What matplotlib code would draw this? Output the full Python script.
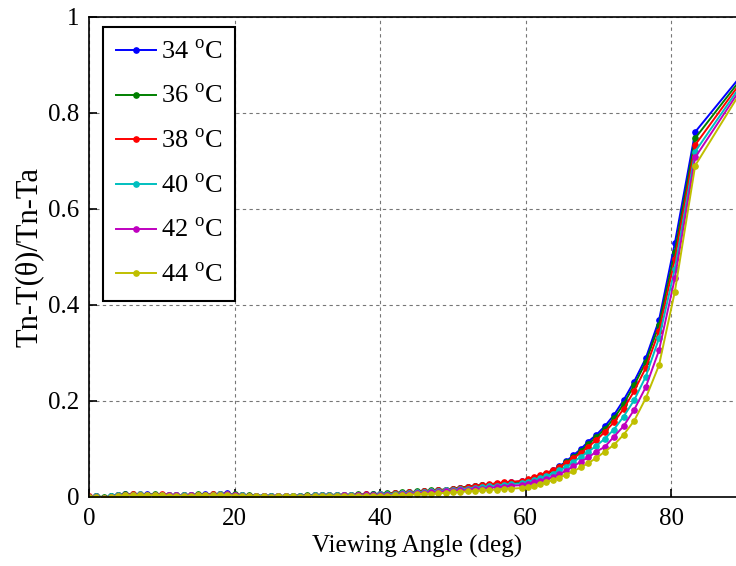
import matplotlib
matplotlib.use("Agg")
import matplotlib.pyplot as plt

plt.rcParams['font.family'] = ['Liberation Serif', 'DejaVu Serif']
plt.rcParams['mathtext.fontset'] = 'custom'
plt.rcParams['mathtext.rm'] = 'Liberation Serif'

# viewing angles (deg): 1 deg steps on the flat part, then the sampled points up to 90
angles = [0, 1, 2, 3, 4, 5, 6, 7, 8, 9,
          10, 11, 12, 13, 14, 15, 16, 17, 18, 19,
          20, 21, 22, 23, 24, 25, 26, 27, 28, 29,
          30, 31, 32, 33, 34, 35, 36, 37, 38, 39,
          40, 41, 42, 43, 44, 45, 46, 47, 48, 49,
          50, 51, 52, 53, 54, 55, 56, 57, 58,
          59.54, 60.34, 61.15, 61.97, 62.84, 63.70, 64.62, 65.56, 66.52, 67.54,
          68.59, 69.70, 70.86, 72.10, 73.43, 74.88, 76.47, 78.30, 80.47, 83.27, 90.0]

labels = ['34 $^{\\mathrm{o}}$C', '36 $^{\\mathrm{o}}$C', '38 $^{\\mathrm{o}}$C',
          '40 $^{\\mathrm{o}}$C', '42 $^{\\mathrm{o}}$C', '44 $^{\\mathrm{o}}$C']
colors = ['#0000ff', '#008000', '#ff0000', '#00bfbf', '#bf00bf', '#bfbf00']

t34 = [0.000, 0.001, -0.002, 0.001, 0.004, 0.005, 0.004, 0.004, 0.005, 0.004,
       0.004, 0.004, 0.003, 0.003, 0.004, 0.004, 0.005, 0.004, 0.006, 0.007,
       0.004, 0.003, 0.002, 0.002, 0.002, 0.002, 0.001, 0.002, 0.002, 0.002,
       0.002, 0.003, 0.004, 0.004, 0.003, 0.004, 0.004, 0.004, 0.005, 0.005,
       0.006, 0.006, 0.007, 0.008, 0.009, 0.010, 0.011, 0.012, 0.013, 0.014,
       0.016, 0.018, 0.020, 0.023, 0.024, 0.025, 0.027, 0.028, 0.030,
       0.032, 0.035, 0.039, 0.043, 0.048, 0.055, 0.063, 0.074, 0.086, 0.099,
       0.115, 0.129, 0.147, 0.170, 0.201, 0.240, 0.288, 0.368, 0.528, 0.760, 0.885]
t36 = [0.000, 0.002, -0.001, 0.001, 0.003, 0.005, 0.005, 0.004, 0.004, 0.005,
       0.004, 0.003, 0.004, 0.003, 0.003, 0.005, 0.004, 0.005, 0.005, 0.006,
       0.005, 0.003, 0.003, 0.002, 0.002, 0.001, 0.002, 0.002, 0.001, 0.002,
       0.003, 0.003, 0.003, 0.004, 0.004, 0.004, 0.003, 0.005, 0.004, 0.005,
       0.006, 0.007, 0.008, 0.009, 0.009, 0.011, 0.012, 0.013, 0.014, 0.015,
       0.017, 0.019, 0.021, 0.022, 0.024, 0.025, 0.027, 0.028, 0.029,
       0.031, 0.034, 0.038, 0.042, 0.047, 0.054, 0.062, 0.072, 0.083, 0.095,
       0.110, 0.124, 0.141, 0.163, 0.193, 0.232, 0.280, 0.358, 0.510, 0.747, 0.879]
t38 = [0.001, 0.001, -0.002, 0.000, 0.003, 0.004, 0.005, 0.005, 0.004, 0.004,
       0.005, 0.004, 0.003, 0.004, 0.003, 0.004, 0.004, 0.005, 0.005, 0.006,
       0.004, 0.004, 0.002, 0.002, 0.001, 0.002, 0.002, 0.001, 0.002, 0.002,
       0.002, 0.003, 0.003, 0.003, 0.004, 0.003, 0.004, 0.004, 0.005, 0.004,
       0.005, 0.006, 0.007, 0.008, 0.009, 0.010, 0.011, 0.012, 0.013, 0.015,
       0.016, 0.018, 0.020, 0.022, 0.024, 0.026, 0.028, 0.030, 0.031,
       0.033, 0.037, 0.041, 0.045, 0.050, 0.055, 0.062, 0.070, 0.080, 0.091,
       0.104, 0.118, 0.135, 0.155, 0.183, 0.220, 0.268, 0.345, 0.495, 0.733, 0.873]
t40 = [0.000, 0.001, -0.002, 0.001, 0.003, 0.004, 0.004, 0.005, 0.004, 0.004,
       0.004, 0.003, 0.004, 0.003, 0.003, 0.004, 0.004, 0.004, 0.005, 0.006,
       0.004, 0.003, 0.002, 0.002, 0.002, 0.001, 0.001, 0.002, 0.002, 0.001,
       0.002, 0.003, 0.003, 0.003, 0.003, 0.004, 0.003, 0.004, 0.004, 0.004,
       0.005, 0.005, 0.006, 0.007, 0.008, 0.009, 0.010, 0.011, 0.012, 0.013,
       0.014, 0.016, 0.017, 0.019, 0.020, 0.022, 0.023, 0.025, 0.026,
       0.028, 0.031, 0.034, 0.038, 0.043, 0.048, 0.055, 0.062, 0.072, 0.083,
       0.094, 0.106, 0.121, 0.140, 0.167, 0.201, 0.250, 0.330, 0.475, 0.719, 0.867]
t42 = [0.000, 0.000, -0.003, 0.000, 0.002, 0.004, 0.004, 0.004, 0.003, 0.004,
       0.003, 0.003, 0.003, 0.002, 0.003, 0.003, 0.004, 0.004, 0.004, 0.005,
       0.003, 0.002, 0.001, 0.001, 0.001, 0.000, 0.001, 0.001, 0.000, -0.001,
       0.001, 0.002, 0.002, 0.002, 0.002, 0.003, 0.002, 0.003, 0.003, 0.003,
       0.003, 0.004, 0.004, 0.005, 0.006, 0.007, 0.008, 0.009, 0.010, 0.011,
       0.012, 0.013, 0.014, 0.016, 0.017, 0.018, 0.020, 0.021, 0.023,
       0.024, 0.027, 0.030, 0.033, 0.036, 0.041, 0.047, 0.054, 0.063, 0.073,
       0.082, 0.094, 0.104, 0.125, 0.147, 0.181, 0.228, 0.305, 0.455, 0.707, 0.861]
t44 = [0.000, 0.000, -0.002, -0.001, 0.002, 0.003, 0.003, 0.003, 0.003, 0.003,
       0.003, 0.002, 0.002, 0.002, 0.002, 0.003, 0.003, 0.003, 0.003, 0.004,
       0.002, 0.002, 0.001, 0.001, 0.001, 0.000, 0.001, 0.001, 0.001, 0.000,
       0.001, 0.001, 0.002, 0.002, 0.002, 0.002, 0.002, 0.002, 0.002, 0.002,
       0.002, 0.002, 0.003, 0.003, 0.004, 0.005, 0.006, 0.006, 0.007, 0.008,
       0.009, 0.010, 0.011, 0.012, 0.013, 0.014, 0.015, 0.016, 0.017,
       0.018, 0.020, 0.023, 0.026, 0.030, 0.035, 0.040, 0.046, 0.053, 0.061,
       0.070, 0.081, 0.094, 0.108, 0.129, 0.158, 0.205, 0.274, 0.427, 0.690, 0.855]

series = [t34, t36, t38, t40, t42, t44]

fig = plt.figure(figsize=(7.36, 5.66), dpi=100)
# axes run past the right edge of the image, like the cropped original
ax = fig.add_axes([89 / 736, 69.3 / 566, 655.2 / 736, 480 / 566])

for vals, c, lab in zip(series, colors, labels):
    ax.plot(angles, vals, color=c, lw=1.4, marker='o', ms=3.8, mec=c, mfc=c, label=lab)

ax.set_xlim(0, 90)
ax.set_ylim(0, 1)
ax.set_xticks([0, 20, 40, 60, 80])
ax.set_yticks([0, 0.2, 0.4, 0.6, 0.8, 1])
ax.set_yticklabels(['0', '0.2', '0.4', '0.6', '0.8', '1'])
ax.tick_params(direction='in', length=6, width=1.2, labelsize=18)
ax.tick_params(axis='y', pad=7)
ax.tick_params(axis='x', pad=8)
ax.grid(True, color='#777777', linestyle=(0, (3, 3)), linewidth=0.8)
for s in ax.spines.values():
    s.set_linewidth(1.2)

ax.set_xlabel('Viewing Angle (deg)', fontsize=18, labelpad=4)
ax.set_ylabel('Tn-T(θ)/Tn-Ta', fontsize=22, labelpad=3)

leg = ax.legend(loc='upper left', bbox_to_anchor=(0.021, 0.979), borderaxespad=0,
                fontsize=19, numpoints=1, handlelength=1.5, handletextpad=0.2,
                labelspacing=0.78, borderpad=0.5, fancybox=False, framealpha=1)
leg.get_frame().set_edgecolor('black')
leg.get_frame().set_linewidth(1.5)

fig.savefig('out.png', dpi=100)
